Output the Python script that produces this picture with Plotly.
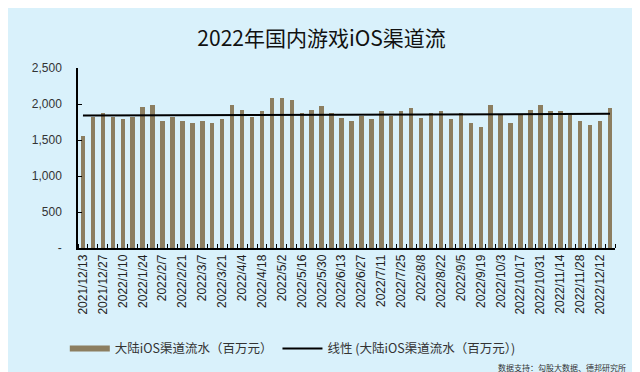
import numpy as np
import plotly.graph_objects as go

weeks = [
    "2021/12/13", "2021/12/20", "2021/12/27", "2022/1/3", "2022/1/10", "2022/1/17",
    "2022/1/24", "2022/1/31", "2022/2/7", "2022/2/14", "2022/2/21", "2022/2/28",
    "2022/3/7", "2022/3/14", "2022/3/21", "2022/3/28", "2022/4/4", "2022/4/11",
    "2022/4/18", "2022/4/25", "2022/5/2", "2022/5/9", "2022/5/16", "2022/5/23",
    "2022/5/30", "2022/6/6", "2022/6/13", "2022/6/20", "2022/6/27", "2022/7/4",
    "2022/7/11", "2022/7/18", "2022/7/25", "2022/8/1", "2022/8/8", "2022/8/15",
    "2022/8/22", "2022/8/29", "2022/9/5", "2022/9/12", "2022/9/19", "2022/9/26",
    "2022/10/3", "2022/10/10", "2022/10/17", "2022/10/24", "2022/10/31", "2022/11/7",
    "2022/11/14", "2022/11/21", "2022/11/28", "2022/12/5", "2022/12/12", "2022/12/19",
]
revenue = [
    1550, 1820, 1870, 1825, 1785, 1825, 1955, 1980, 1760, 1825, 1760, 1738,
    1762, 1738, 1785, 1980, 1922, 1824, 1896, 2080, 2080, 2058, 1870, 1921,
    1979, 1870, 1812, 1759, 1831, 1785, 1896, 1838, 1896, 1946, 1812, 1870,
    1896, 1785, 1870, 1738, 1683, 1981, 1843, 1738, 1848, 1923, 1981, 1898,
    1898, 1852, 1762, 1713, 1762, 1946,
]
tick_labels = weeks[::2]
y_ticks = [0, 500, 1000, 1500, 2000, 2500]
y_tick_text = ["-", "500", "1,000", "1,500", "2,000", "2,500"]

series_name = "大陆iOS渠道流水（百万元）"
trend_name = "线性 (大陆iOS渠道流水（百万元）)"
title_text = "2022年国内游戏iOS渠道流"
source_text = "数据支持：勾股大数据、德邦研究所"

bar_color = "#8c7e60"
bg = "#d9f1fb"

x = np.arange(len(revenue))
coef = np.polyfit(x, np.array(revenue, dtype=float), 1)
trend = np.polyval(coef, x)

fig = go.Figure()
fig.add_trace(go.Bar(x=x, y=revenue, width=0.45, marker=dict(color=bar_color, line=dict(width=0)),
                     name=series_name, showlegend=False))
fig.add_trace(go.Scatter(x=[None], y=[None], mode="lines", line=dict(color=bar_color, width=6),
                         name=series_name))
fig.add_trace(go.Scatter(x=x, y=trend, mode="lines", line=dict(color="black", width=2),
                         name=trend_name))

fig.update_layout(
    width=640, height=372,
    margin=dict(l=70, r=33, t=60, b=132),
    paper_bgcolor=bg, plot_bgcolor=bg,
    title=dict(text=title_text, x=0.49, xanchor="center", y=0.918, yanchor="middle",
               font=dict(family="Noto Sans CJK SC", size=21, color="#111")),
    bargap=0,
    legend=dict(orientation="h", x=0.40, xanchor="center", y=-0.56, yanchor="middle",
                font=dict(family="Noto Sans CJK SC", size=12.5, color="#333"),
                bgcolor="rgba(0,0,0,0)", itemwidth=40),
    annotations=[dict(text=source_text, x=1.024, xref="paper", xanchor="right",
                      y=-0.665, yref="paper", yanchor="middle", showarrow=False,
                      font=dict(family="Noto Sans CJK SC", size=8, color="#333"))],
)
fig.update_xaxes(
    range=[-0.5, 53.5], tickvals=x[::2], ticktext=tick_labels, tickangle=-90,
    ticks="", showgrid=False, zeroline=False, showline=True, linecolor="black", linewidth=1.5,
    tickfont=dict(family="Liberation Sans", size=12, color="#222"),
    minor=dict(tickvals=[i - 0.5 for i in range(len(revenue) + 1)], ticks="inside",
               ticklen=4, tickcolor="black", tickwidth=1, showgrid=False),
)
fig.update_yaxes(
    range=[0, 2500], tickvals=y_ticks, ticktext=y_tick_text, ticks="inside", ticklen=4,
    tickcolor="black", showgrid=False, zeroline=False, showline=True, linecolor="black",
    linewidth=1.5, ticklabelstandoff=12,
    tickfont=dict(family="Liberation Sans", size=12, color="#333"),
)
fig.write_html("out.html")
